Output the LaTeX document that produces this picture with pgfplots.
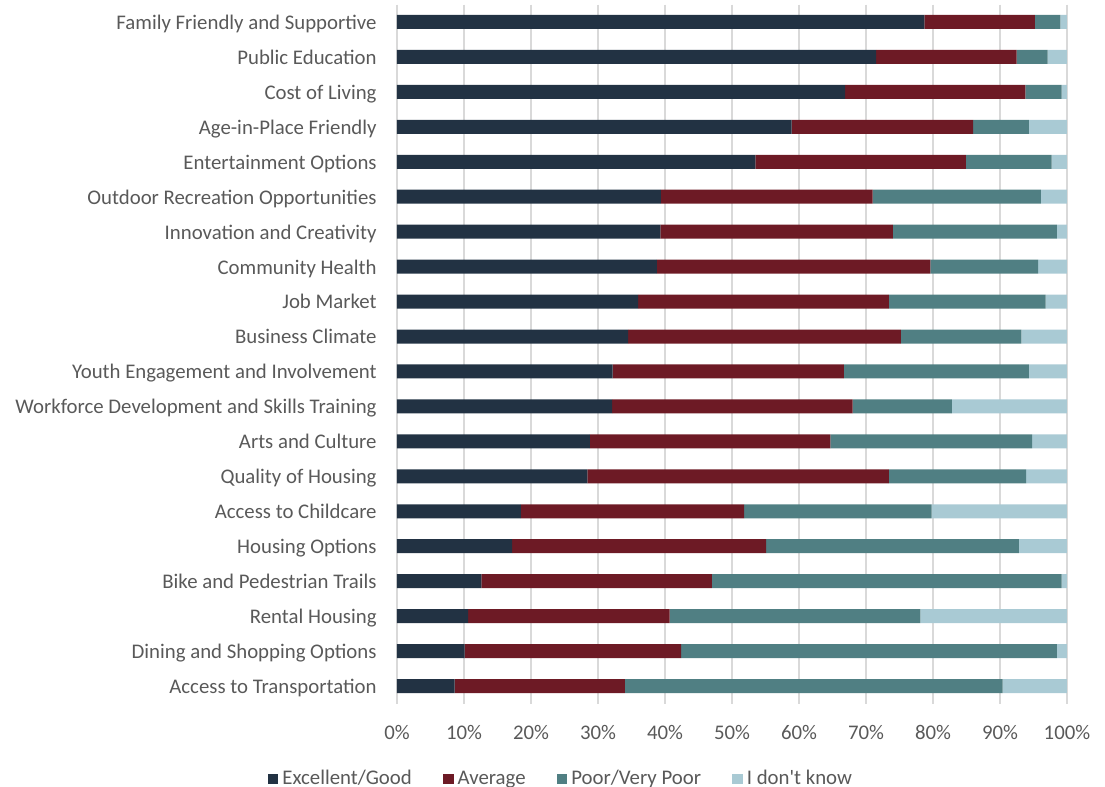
\documentclass[border=0pt]{standalone}
\usepackage{fontspec}
\setmainfont{Carlito}
\usepackage{pgfplots}
\usepackage{pgfplotstable}
\pgfplotsset{compat=1.18}

\definecolor{cExc}{HTML}{223243}
\definecolor{cAvg}{HTML}{6D1A25}
\definecolor{cPoor}{HTML}{507F83}
\definecolor{cDk}{HTML}{A9CAD4}
\definecolor{txt}{HTML}{595959}
\definecolor{gridc}{HTML}{D9D9D9}

% segment shares in %, top row first
\pgfplotstableread{
idx exc  avg  poor dk
0   78.7 16.5 3.8  1.0
1   71.5 21.0 4.6  2.9
2   66.9 26.9 5.4  0.8
3   58.9 27.1 8.3  5.7
4   53.5 31.4 12.8 2.3
5   39.4 31.6 25.1 3.9
6   39.3 34.7 24.5 1.5
7   38.8 40.8 16.1 4.3
8   36.0 37.4 23.4 3.2
9   34.5 40.7 18.0 6.8
10  32.2 34.5 27.6 5.7
11  32.1 35.9 14.8 17.2
12  28.8 35.9 30.1 5.2
13  28.4 45.0 20.5 6.1
14  18.5 33.3 28.0 20.2
15  17.2 37.9 37.7 7.2
16  12.6 34.4 52.2 0.8
17  10.6 30.1 37.4 21.9
18  10.1 32.3 56.1 1.5
19  8.6  25.4 56.4 9.6
}\ratings

\begin{document}
\begin{tikzpicture}
\begin{axis}[
    scale only axis,
    width=335pt, height=349.5pt,
    xbar stacked,
    bar width=7pt,
    xmin=0, xmax=100,
    ymin=-0.5, ymax=19.5,
    y dir=reverse,
    ytick={0,...,19},
    yticklabels={Family Friendly and Supportive, Public Education, Cost of Living,
        Age-in-Place Friendly, Entertainment Options, Outdoor Recreation Opportunities,
        Innovation and Creativity, Community Health, Job Market, Business Climate,
        Youth Engagement and Involvement, Workforce Development and Skills Training,
        Arts and Culture, Quality of Housing, Access to Childcare, Housing Options,
        Bike and Pedestrian Trails, Rental Housing, Dining and Shopping Options,
        Access to Transportation},
    xtick={0,10,...,100},
    xticklabels={0\%,10\%,20\%,30\%,40\%,50\%,60\%,70\%,80\%,90\%,100\%},
    major tick length=0pt,
    axis line style={draw=none},
    xmajorgrids,
    grid style={gridc, line width=0.6pt},
    typeset ticklabels with strut,
    tick label style={font=\fontsize{10.4}{12}\selectfont, text=txt},
    yticklabel style={inner sep=0pt, xshift=-10pt, yshift=-1.3pt},
    xticklabel style={yshift=-6pt},
    legend style={draw=none, at={(rel axis cs:0.246,-0.108)}, anchor=center,
        font=\fontsize{10.4}{12}\selectfont, text=txt, legend columns=4,
        /tikz/every even column/.append style={column sep=13.5pt}},
    legend image code/.code={\fill[#1] (0pt,-2.7pt) rectangle (5.4pt,2.7pt);},
]
\addplot[fill=cExc, draw=none] table[x=exc, y=idx] {\ratings};
\addlegendentry{Excellent/Good}
\addplot[fill=cAvg, draw=none] table[x=avg, y=idx] {\ratings};
\addlegendentry{Average}
\addplot[fill=cPoor, draw=none] table[x=poor, y=idx] {\ratings};
\addlegendentry{Poor/Very Poor}
\addplot[fill=cDk, draw=none] table[x=dk, y=idx] {\ratings};
\addlegendentry{I don\textquotesingle t know}
\end{axis}
\pgfresetboundingbox
\path[use as bounding box] (-198.5pt,-41.75pt) rectangle (354pt,351.75pt);
\end{tikzpicture}
\end{document}
